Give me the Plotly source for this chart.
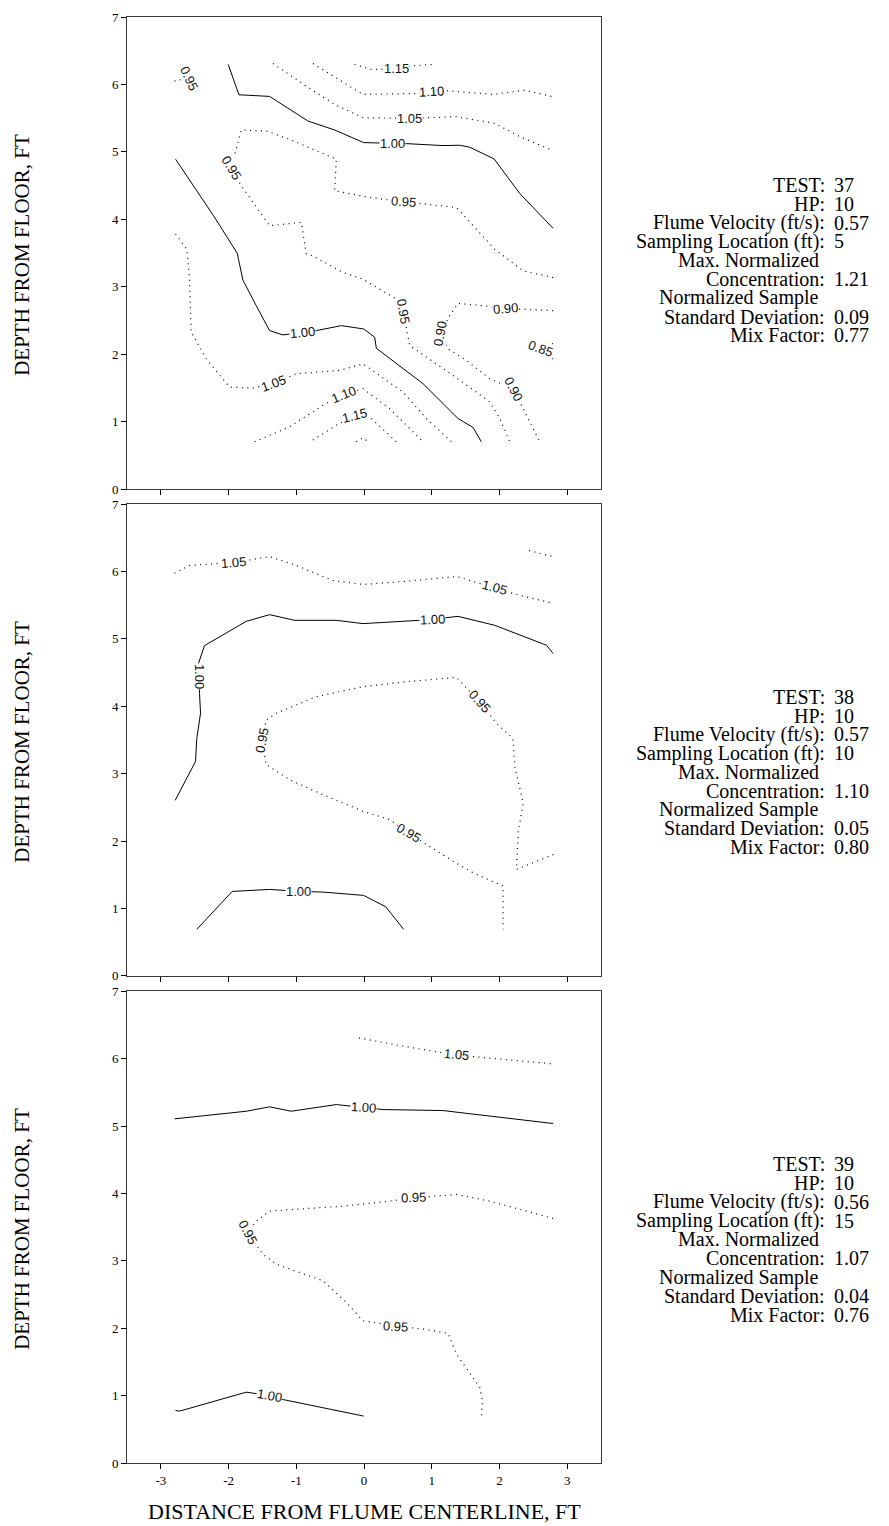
import plotly.graph_objects as go

# ---------------- data ----------------
x_tick_vals = [-3, -2, -1, 0, 1, 2, 3]
x_tick_text = ["-3", "-2", "-1", "0", "1", "2", "3"]
y_tick_vals = [0, 1, 2, 3, 4, 5, 6, 7]

# ---- TEST 37 contour lines ----
t37_c100_upper_x = [-2.005, -1.847, -1.394, -0.828, -0.433, -0.005, 0.626, 1.167, 1.414, 1.562, 1.921, 2.300, 2.793]
t37_c100_upper_y = [6.296, 5.847, 5.823, 5.458, 5.325, 5.138, 5.123, 5.094, 5.099, 5.069, 4.897, 4.384, 3.867]
t37_c100_lower_x = [-2.783, -2.222, -1.872, -1.788, -1.591, -1.394, -1.197, -0.704, -0.335, -0.005, 0.158, 0.182, 0.872, 1.389, 1.611, 1.734]
t37_c100_lower_y = [4.892, 4.054, 3.497, 3.099, 2.720, 2.351, 2.287, 2.351, 2.425, 2.376, 2.253, 2.090, 1.564, 1.048, 0.915, 0.703]
t37_c115_top_x = [-0.138, 0.10, 0.47, 0.75, 1.020]
t37_c115_top_y = [6.296, 6.222, 6.232, 6.28, 6.296]
t37_c110_top_x = [-0.754, -0.409, -0.015, 0.823, 1.167, 1.906, 2.374, 2.793]
t37_c110_top_y = [6.310, 6.099, 5.852, 5.867, 5.911, 5.852, 5.916, 5.818]
t37_c105_top_x = [-1.345, -0.852, -0.433, -0.015, 0.665, 1.365, 1.931, 2.300, 2.744]
t37_c105_top_y = [6.310, 5.975, 5.704, 5.507, 5.498, 5.522, 5.424, 5.227, 5.039]
t37_c095_corner_x = [-2.80, -2.58]
t37_c095_corner_y = [6.05, 6.10]
t37_c095_main_x = [2.793, 2.350, 1.931, 1.562, 1.365, 0.576, 0.084, -0.433, -0.409, -1.099, -1.443, -1.813,
                   -1.887, -1.961, -1.813, -1.394, -0.926, -0.852, -0.754, -0.310, -0.015, 0.478, 0.576,
                   0.640, 0.675, 1.315, 1.857, 2.005, 2.153]
t37_c095_main_y = [3.138, 3.237, 3.556, 3.956, 4.177, 4.261, 4.325, 4.424, 4.892, 5.187, 5.310, 5.325,
                   5.039, 4.768, 4.498, 3.906, 3.956, 3.488, 3.458, 3.212, 3.114, 2.818, 2.646,
                   2.300, 2.130, 1.687, 1.294, 1.048, 0.703]
t37_c090_x = [2.793, 2.094, 1.857, 1.389, 1.266, 1.128, 1.241, 1.512, 1.857, 2.202, 2.350, 2.596]
t37_c090_y = [2.646, 2.681, 2.710, 2.755, 2.573, 2.302, 2.081, 1.908, 1.638, 1.490, 1.195, 0.703]
t37_c085_x = [2.79, 2.62, 2.79]
t37_c085_y = [2.16, 2.09, 1.93]
t37_c105_low_x = [-2.783, -2.616, -2.576, -2.552, -2.330, -1.985, -1.640, -1.340, -1.000, -0.360, -0.015, 0.576, 0.921, 1.291]
t37_c105_low_y = [3.783, 3.556, 3.114, 2.327, 1.933, 1.515, 1.500, 1.564, 1.712, 1.761, 1.859, 1.441, 1.048, 0.703]
t37_c110_low_x = [-1.616, -1.099, -0.606, -0.300, -0.015, 0.379, 0.872]
t37_c110_low_y = [0.703, 0.925, 1.244, 1.407, 1.490, 1.195, 0.703]
t37_c115_low_x = [-0.754, -0.409, -0.138, 0.084, 0.478]
t37_c115_low_y = [0.728, 0.949, 1.097, 1.072, 0.703]
t37_c120_x = [-0.113, -0.015, 0.074]
t37_c120_y = [0.703, 0.762, 0.693]

t37_label_x = [0.478, 0.995, 0.665, 0.414, -2.586, -1.961, 0.576, -0.911, 0.576, 1.128, 2.094, 2.606, 2.202, -1.340, -0.300, -0.138]
t37_label_y = [6.232, 5.892, 5.498, 5.123, 6.084, 4.768, 4.261, 2.317, 2.646, 2.302, 2.681, 2.081, 1.490, 1.564, 1.407, 1.097]
t37_label_text = ["1.15", "1.10", "1.05", "1.00", "0.95", "0.95", "0.95", "1.00", "0.95", "0.90", "0.90", "0.85", "0.90", "1.05", "1.10", "1.15"]
t37_label_angle = [0, -3, 0, 0, 65, 58, 4, -6, 80, -80, -5, 20, 62, -20, -22, -14]

# ---- TEST 38 contour lines ----
t38_c105_x = [-2.798, -2.576, -2.133, -1.926, -1.739, -1.394, -1.000, -0.458, -0.015, 0.626, 1.365, 1.931, 2.300, 2.744]
t38_c105_y = [5.975, 6.089, 6.123, 6.133, 6.163, 6.222, 6.089, 5.867, 5.808, 5.857, 5.926, 5.759, 5.645, 5.542]
t38_c105_corner_x = [2.438, 2.793]
t38_c105_corner_y = [6.310, 6.222]
t38_c100_upper_x = [2.793, 2.695, 1.931, 1.389, 1.010, 0.823, -0.015, -0.409, -1.025, -1.394, -1.739, -2.355,
                    -2.453, -2.438, -2.429, -2.414, -2.470, -2.488, -2.788]
t38_c100_upper_y = [4.783, 4.906, 5.202, 5.335, 5.291, 5.276, 5.227, 5.276, 5.276, 5.360, 5.261, 4.901,
                    4.611, 4.438, 4.192, 3.897, 3.520, 3.182, 2.605]
t38_c095_x = [2.798, 2.251, 2.276, 2.350, 2.227, 2.200, 1.956, 1.709, 1.365, 0.626, -0.015, -0.704, -1.296,
              -1.443, -1.511, -1.443, -1.099, -0.606, -0.015, 0.379, 0.650, 0.921, 1.315, 1.611, 2.054, 2.054]
t38_c095_y = [1.801, 1.579, 2.121, 2.565, 3.108, 3.520, 3.749, 4.069, 4.429, 4.365, 4.291, 4.143, 3.897,
              3.798, 3.498, 3.133, 2.911, 2.689, 2.442, 2.319, 2.121, 1.949, 1.702, 1.529, 1.332, 0.691]
t38_c100_lower_x = [-2.468, -1.946, -1.394, -0.961, -0.606, -0.005, 0.320, 0.586]
t38_c100_lower_y = [0.691, 1.253, 1.283, 1.253, 1.243, 1.194, 1.026, 0.691]

t38_label_x = [-1.926, 1.931, 1.010, -2.438, 1.709, -1.511, 0.650, -0.961]
t38_label_y = [6.133, 5.759, 5.291, 4.438, 4.069, 3.498, 2.121, 1.253]
t38_label_text = ["1.05", "1.05", "1.00", "1.00", "0.95", "0.95", "0.95", "1.00"]
t38_label_angle = [-5, 15, -2, 90, 48, -80, 30, 0]

# ---- TEST 39 contour lines ----
t39_c105_x = [-0.074, 0.55, 1.167, 1.365, 1.562, 2.793]
t39_c105_y = [6.308, 6.19, 6.086, 6.061, 6.036, 5.922]
t39_c100_upper_x = [-2.798, -1.739, -1.394, -1.074, -0.409, -0.005, 0.281, 1.167, 1.463, 2.793]
t39_c100_upper_y = [5.107, 5.220, 5.285, 5.220, 5.319, 5.270, 5.245, 5.230, 5.196, 5.038]
t39_c095_x = [2.793, 1.857, 1.365, 0.724, 0.379, -0.310, -1.394, -1.591, -1.714, -1.493, -1.296, -0.606,
              -0.261, -0.015, 0.468, 0.872, 1.241, 1.365, 1.709, 1.749, 1.734]
t39_c095_y = [3.629, 3.886, 3.985, 3.935, 3.886, 3.812, 3.738, 3.589, 3.419, 3.098, 2.950, 2.704,
              2.383, 2.111, 2.033, 1.988, 1.924, 1.618, 1.125, 0.927, 0.681]
t39_c100_lower_x = [-2.783, -2.724, -1.739, -1.399, -1.197, -0.005]
t39_c100_lower_y = [0.779, 0.770, 1.051, 1.001, 0.942, 0.696]

t39_label_x = [1.365, -0.005, 0.724, -1.714, 0.468, -1.399]
t39_label_y = [6.061, 5.270, 3.935, 3.419, 2.033, 1.001]
t39_label_text = ["1.05", "1.00", "0.95", "0.95", "0.95", "1.00"]
t39_label_angle = [6, 4, -2, 62, 3, 10]

# ---- side text ----
info_labels = ["TEST:", "HP:", "Flume Velocity (ft/s):", "Sampling Location (ft):", "Max. Normalized",
               "Concentration:", "Normalized Sample", "Standard Deviation:", "Mix Factor:"]
t37_values = ["37", "10", "0.57", "5", "", "1.21", "", "0.09", "0.77"]
t38_values = ["38", "10", "0.57", "10", "", "1.10", "", "0.05", "0.80"]
t39_values = ["39", "10", "0.56", "15", "", "1.07", "", "0.04", "0.76"]

y_title = "DEPTH FROM FLOOR, FT"
x_title = "DISTANCE FROM FLUME CENTERLINE, FT"

# ---------------- layout helpers ----------------
W, H = 889, 1526
L_PX, R_PX = 127, 601
TOP_PX, BOT_PX = 10, 1463
PW, PH = R_PX - L_PX, BOT_PX - TOP_PX


def px_x(p):
    return (p - L_PX) / PW


def px_y(p):
    return (BOT_PX - p) / PH


panels = [  # (top px, bottom px)
    (10, 484.5),
    (499.5, 973.5),
    (989, 1463),
]

DOT = "1px,4.5px"

fig = go.Figure()

contours = [
    (1, t37_c100_upper_x, t37_c100_upper_y, "solid"),
    (1, t37_c100_lower_x, t37_c100_lower_y, "solid"),
    (1, t37_c115_top_x, t37_c115_top_y, DOT),
    (1, t37_c110_top_x, t37_c110_top_y, DOT),
    (1, t37_c105_top_x, t37_c105_top_y, DOT),
    (1, t37_c095_corner_x, t37_c095_corner_y, DOT),
    (1, t37_c095_main_x, t37_c095_main_y, DOT),
    (1, t37_c090_x, t37_c090_y, DOT),
    (1, t37_c085_x, t37_c085_y, DOT),
    (1, t37_c105_low_x, t37_c105_low_y, DOT),
    (1, t37_c110_low_x, t37_c110_low_y, DOT),
    (1, t37_c115_low_x, t37_c115_low_y, DOT),
    (1, t37_c120_x, t37_c120_y, DOT),
    (2, t38_c105_x, t38_c105_y, DOT),
    (2, t38_c105_corner_x, t38_c105_corner_y, DOT),
    (2, t38_c100_upper_x, t38_c100_upper_y, "solid"),
    (2, t38_c095_x, t38_c095_y, DOT),
    (2, t38_c100_lower_x, t38_c100_lower_y, "solid"),
    (3, t39_c105_x, t39_c105_y, DOT),
    (3, t39_c100_upper_x, t39_c100_upper_y, "solid"),
    (3, t39_c095_x, t39_c095_y, DOT),
    (3, t39_c100_lower_x, t39_c100_lower_y, "solid"),
]

for panel, xs, ys, dash in contours:
    suffix = "" if panel == 1 else str(panel)
    fig.add_trace(go.Scatter(
        x=xs, y=ys, mode="lines",
        line=dict(color="black", width=1 if dash == "solid" else 1.2, dash=dash),
        xaxis="x" + suffix, yaxis="y" + suffix,
        hoverinfo="skip", showlegend=False,
    ))

annotations = []
label_sets = [
    (1, t37_label_x, t37_label_y, t37_label_text, t37_label_angle),
    (2, t38_label_x, t38_label_y, t38_label_text, t38_label_angle),
    (3, t39_label_x, t39_label_y, t39_label_text, t39_label_angle),
]
for panel, lx, ly, lt, la in label_sets:
    suffix = "" if panel == 1 else str(panel)
    for x, y, t, a in zip(lx, ly, lt, la):
        annotations.append(dict(
            x=x, y=y, xref="x" + suffix, yref="y" + suffix, text=t, textangle=a,
            showarrow=False, bgcolor="white", borderpad=0,
            font=dict(family="Liberation Sans, Arial", size=13, color="#111111"),
        ))

# side text blocks
side_starts = [178.8, 693.0, 1162.7]
STEP = 18.9
for start, vals in zip(side_starts, [t37_values, t38_values, t39_values]):
    for i, (lab, val) in enumerate(zip(info_labels, vals)):
        yy = px_y(start + i * STEP)
        right_px = 826.7 if lab.endswith(":") else 820.5
        annotations.append(dict(
            x=px_x(right_px), y=yy, xref="paper", yref="paper", text=lab,
            xanchor="right", yanchor="middle", showarrow=False,
            font=dict(family="Liberation Serif, Times New Roman", size=20, color="black"),
        ))
        if val:
            annotations.append(dict(
                x=px_x(832), y=yy, xref="paper", yref="paper", text=val,
                xanchor="left", yanchor="middle", showarrow=False,
                font=dict(family="Liberation Serif, Times New Roman", size=20, color="black"),
            ))

# axis titles
for top, bot in panels:
    annotations.append(dict(
        x=px_x(21.7), y=px_y((top + bot) / 2 + 2), xref="paper", yref="paper", text=y_title,
        textangle=-90, xanchor="center", yanchor="middle", showarrow=False,
        font=dict(family="Liberation Serif, Times New Roman", size=21, color="black"),
    ))
annotations.append(dict(
    x=px_x(364), y=px_y(1512), xref="paper", yref="paper", text=x_title,
    xanchor="center", yanchor="middle", showarrow=False,
    font=dict(family="Liberation Serif, Times New Roman", size=22, color="black"),
))

axis_common = dict(
    showline=True, mirror=True, linecolor="#3a3a3a", linewidth=1,
    ticks="outside", ticklen=5, tickwidth=1, tickcolor="black",
    showgrid=False, zeroline=False, fixedrange=True,
    tickfont=dict(family="Liberation Serif, Times New Roman", size=13, color="black"),
)

layout = dict(
    width=W, height=H,
    margin=dict(l=L_PX, r=W - R_PX, t=TOP_PX, b=H - BOT_PX, pad=0),
    paper_bgcolor="white", plot_bgcolor="white",
    showlegend=False, annotations=annotations,
)
for i, (top, bot) in enumerate(panels, start=1):
    suffix = "" if i == 1 else str(i)
    layout["xaxis" + suffix] = dict(
        axis_common, domain=[0, 1], range=[-3.5, 3.5],
        tickvals=x_tick_vals, ticktext=x_tick_text,
        showticklabels=(i == 3), anchor="y" + suffix,
    )
    layout["yaxis" + suffix] = dict(
        axis_common, domain=[px_y(bot), px_y(top)], range=[0, 7],
        tickvals=y_tick_vals, anchor="x" + suffix,
    )

fig.update_layout(**layout)
fig.write_html("out.html")
